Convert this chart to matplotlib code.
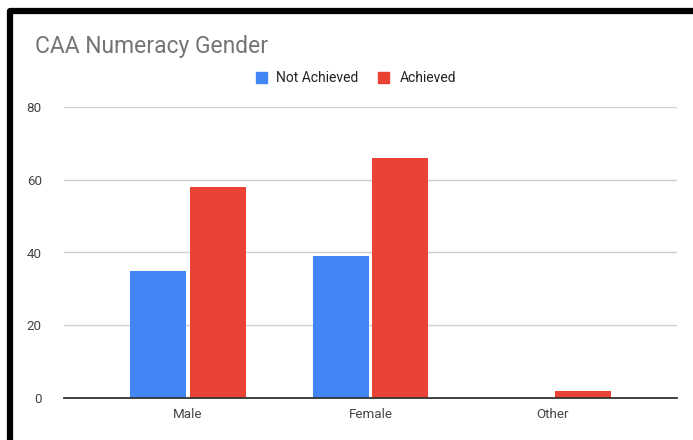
import matplotlib
matplotlib.use("Agg")
import matplotlib.pyplot as plt
from matplotlib.lines import Line2D
from matplotlib.patches import Rectangle
import numpy as np

categories = ["Male", "Female", "Other"]
not_achieved = [35, 39, 0]
achieved = [58, 66, 2]
yticks = [0, 20, 40, 60, 80]

plt.rcParams['font.family'] = ['Roboto', 'DejaVu Sans']

W, H = 693, 440
fig = plt.figure(figsize=(W / 100, H / 100), dpi=100)
fig.patch.set_facecolor('white')

ax = fig.add_axes([64 / W, 42 / H, (677 - 64) / W, (333 - 42) / H])
x = np.arange(len(categories))
bw = 0.307
off = 0.163
ax.bar(x - off, not_achieved, bw, color='#4285F4', zorder=3)
ax.bar(x + off, achieved, bw, color='#EA4335', zorder=3)

ax.set_xlim(-0.68, 2.68)
ax.set_ylim(0, 80)
ax.set_yticks(yticks)
ax.set_xticks(x)
ax.set_xticklabels(categories)
ax.yaxis.grid(True, color='#d0d0d0', linewidth=1, zorder=0)
ax.set_axisbelow(True)
for s in ['top', 'right', 'left']:
    ax.spines[s].set_visible(False)
ax.spines['bottom'].set_color('#333333')
ax.spines['bottom'].set_linewidth(1.3)
ax.spines['bottom'].set_zorder(4)
ax.tick_params(axis='both', length=0, labelsize=9.6, colors='#444444')
ax.tick_params(axis='y', pad=16)
ax.tick_params(axis='x', pad=7)

fig.text(35 / W, 1 - 46 / H, "CAA Numeracy Gender", fontsize=16.5, color='#757575',
         ha='left', va='center')

# legend
ly = 1 - 78 / H
sq = 11
fig.patches.append(Rectangle((256 / W, ly - sq / 2 / H), sq / W, sq / H,
                             transform=fig.transFigure, color='#4285F4'))
fig.text(276 / W, ly, "Not Achieved", fontsize=10, color='#222222', ha='left', va='center')
fig.patches.append(Rectangle((378 / W, ly - sq / 2 / H), sq / W, sq / H,
                             transform=fig.transFigure, color='#EA4335'))
fig.text(400 / W, ly, "Achieved", fontsize=10, color='#222222', ha='left', va='center')

# black frame (top and left)
fig.add_artist(Line2D([10 / W, 10 / W, 1.02], [-0.05, 1 - 11 / H, 1 - 11 / H],
                      transform=fig.transFigure, color='black', linewidth=4.5,
                      solid_joinstyle='round'))

fig.savefig("out.png", dpi=100, facecolor='white')
